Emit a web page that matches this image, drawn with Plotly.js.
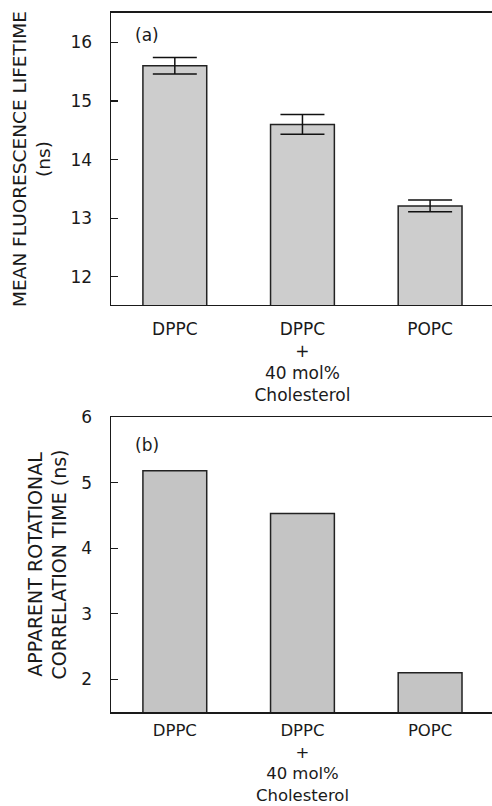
<!DOCTYPE html>
<html>
<head>
<meta charset="utf-8">
<script src="https://cdn.plot.ly/plotly-3.0.1.min.js"></script>
<style>html,body{margin:0;padding:0;overflow:hidden;background:#fff}</style>
</head>
<body>
<div id="chart" style="width:492px;height:806px"></div>
<script>
var categories = ["DPPC", "DPPC<br>+<br>40 mol%<br>Cholesterol", "POPC"];
var lifetime = [15.60, 14.60, 13.21];
var lifetimeErr = [0.14, 0.17, 0.10];
var corrTime = [5.18, 4.53, 2.10];
var panelLabels = ["(a)", "(b)"];

var font = "DejaVu Sans, Verdana, sans-serif";
var ink = "#1a1a1a";

var traces = [
  {
    type: "bar", x: categories, y: lifetime, xaxis: "x", yaxis: "y",
    width: 0.5,
    marker: {color: "#cdcdcd", line: {color: "#222", width: 1.5}},
    error_y: {type: "data", array: lifetimeErr, visible: true, color: "#111", thickness: 1.5, width: 22},
    hoverinfo: "none", showlegend: false
  },
  {
    type: "bar", x: categories, y: corrTime, xaxis: "x2", yaxis: "y2",
    width: 0.5,
    marker: {color: "#c4c4c4", line: {color: "#222", width: 1.5}},
    hoverinfo: "none", showlegend: false
  }
];

function xax(anchor, standoff, fsize) {
  return {
    anchor: anchor, domain: [0, 1], type: "category", range: [-0.5, 2.485],
    showline: true, linecolor: ink, linewidth: 1.5, mirror: true,
    ticks: "", showgrid: false, zeroline: false,
    tickfont: {family: font, size: fsize, color: ink},
    ticklabelstandoff: standoff, fixedrange: true
  };
}
function yax(anchor, domain, range, dtick, title, tsize, standoff) {
  return {
    anchor: anchor, domain: domain, range: range, dtick: dtick, tick0: 0,
    showline: true, linecolor: ink, linewidth: 1.5, mirror: false,
    ticks: "inside", ticklen: 7, tickwidth: 1.2, tickcolor: ink,
    showgrid: false, zeroline: false,
    tickfont: {family: font, size: 17, color: ink},
    ticklabelstandoff: 14,
    title: {text: title, font: {family: font, size: tsize, color: ink}, standoff: standoff},
    fixedrange: true
  };
}

var layout = {
  width: 492, height: 806,
  margin: {l: 111, r: 0, t: 0, b: 0},
  paper_bgcolor: "#fff", plot_bgcolor: "#fff",
  xaxis: xax("y", 8, 17),
  yaxis: yax("x", [0.6216, 0.9839], [11.52, 16.5], 1, "MEAN FLUORESCENCE LIFETIME<br>(ns)", 18.5, 15),
  xaxis2: xax("y2", 3, 16.5),
  yaxis2: yax("x2", [0.1166, 0.4826], [1.5, 6.0], 1, "APPARENT ROTATIONAL<br>CORRELATION TIME (ns)", 19, 9),
  annotations: [
    {xref: "x domain", yref: "y domain", x: 0.095, y: 0.925, text: panelLabels[0], showarrow: false,
     xanchor: "center", yanchor: "middle", font: {family: font, size: 17, color: ink}},
    {xref: "x2 domain", yref: "y2 domain", x: 0.095, y: 0.905, text: panelLabels[1], showarrow: false,
     xanchor: "center", yanchor: "middle", font: {family: font, size: 17, color: ink}}
  ]
};

Plotly.newPlot("chart", traces, layout, {displayModeBar: false, staticPlot: true});
</script>
</body>
</html>
